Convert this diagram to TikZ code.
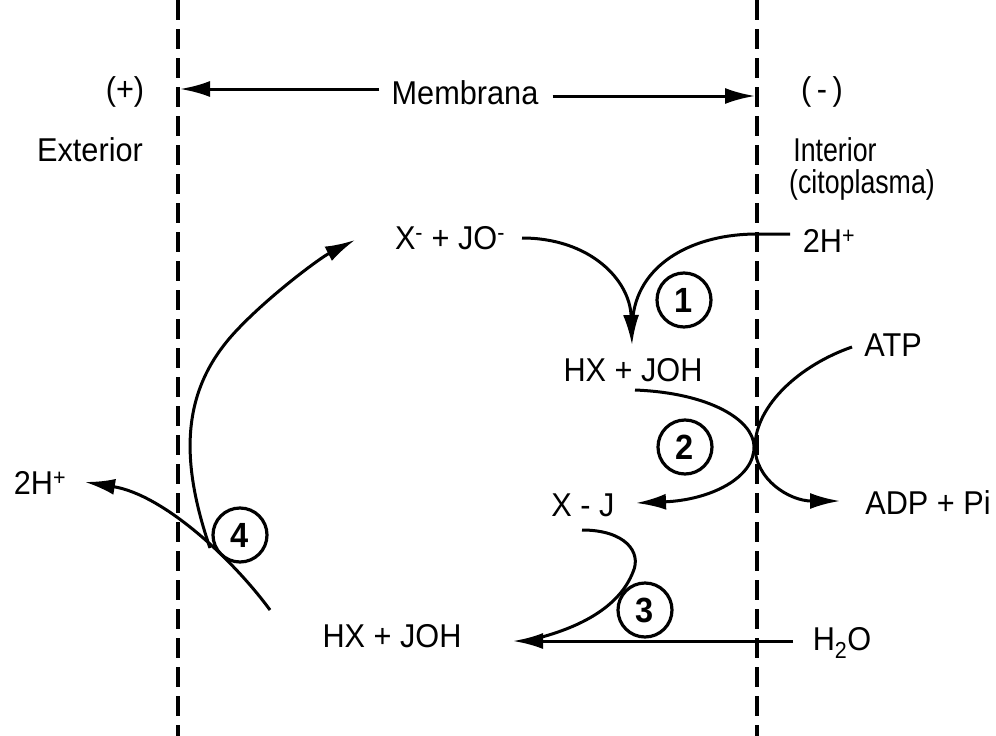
\documentclass[tikz,border=0pt]{standalone}
\usepackage{fontspec}
\setmainfont{Liberation Sans}[FakeStretch=0.93]
\usetikzlibrary{arrows.meta}
\begin{document}
\begin{tikzpicture}[x=1pt,y=-1pt,
  lbl/.style={inner sep=0pt,font=\fontsize{33}{38}\selectfont},
  nar/.style={inner sep=0pt,font=\fontsize{33}{38}\selectfont\addfontfeature{FakeStretch=0.81}},
  num/.style={draw,circle,line width=3.2pt,minimum size=54pt,inner sep=0pt,font=\fontsize{35}{38}\selectfont\bfseries},
  memline/.style={line width=4.5pt,dash pattern=on 20pt off 9pt},
  ln/.style={line width=3pt},
  arr/.style={line width=3pt,-{Latex[length=30pt,width=16pt]}}]
\useasboundingbox (0,0) rectangle (996,736);
% membranes
\coordinate (L1) at (178,0); \coordinate (L2) at (178,736);
\coordinate (R1) at (757,0); \coordinate (R2) at (757,736);
\draw[memline] (L1) -- (L2);
\draw[memline] (R1) -- (R2);
% labels
\node[lbl] (plus) at (125,92) {(+)};
\node[lbl] (minus) at (822,92) {(\,-\,)};
\node[lbl] (ext) at (90,150) {Exterior};
\node[nar] (int) at (835,150) {Interior};
\node[nar] (cito) at (862,185) {(citoplasma)};
\node[lbl] (memb) at (465,93) {Membrana};
\coordinate (ml) at (180,89);
\coordinate (mr) at (755,96);
\draw[arr] (memb.west |- ml) ++(-12,0) -- (ml);
\draw[arr] (memb.east |- mr) ++(14,0) -- (mr);
% species
\node[lbl] (xjo) at (450,238) {X\textsuperscript{-} + JO\textsuperscript{-}};
\node[lbl] (h2r) at (829,241) {2H\textsuperscript{+}};
\node[lbl] (hx1) at (633,370) {HX + JOH};
\node[lbl] (atp) at (893,345) {ATP};
\node[lbl] (xj) at (583,505) {X - J};
\node[lbl] (adp) at (928,503) {ADP + Pi};
\node[lbl] (hx2) at (392,636) {HX + JOH};
\node[lbl] (h2o) at (842,643) {H\textsubscript{2}O};
\node[lbl] (h2l) at (40,483) {2H\textsuperscript{+}};
% step circles
\node[num] (n1) at (684,300) {1};
\node[num] (n2) at (685,447) {2};
\node[num] (n3) at (645,610) {3};
\node[num] (n4) at (240,535) {4};
% step 1
\coordinate (t1) at (632,345);
\coordinate (s1) at (522,238);
\coordinate (s1b) at (790,234);
\draw[arr] (s1) .. controls (590,238) and (630,280) .. (t1);
\draw[ln] (s1b) -- (757,234) .. controls (695,234) and (640,262) .. (633,316);
% step 2
\coordinate (s2) at (635,390);
\coordinate (t2) at (636,503);
\coordinate (s2b) at (852,347);
\coordinate (t2b) at (840,501);
\draw[arr] (s2) .. controls (710,393) and (753,420) .. (754,446) .. controls (755,478) and (710,500) .. (t2);
\draw[arr] (s2b) .. controls (800,365) and (756,405) .. (755,446) .. controls (755,480) and (790,501) .. (t2b);
% step 3
\coordinate (s3) at (582,530);
\coordinate (s3b) at (793,641);
\coordinate (t3) at (513,641);
\draw[arr] (s3b) -- (t3);
\draw[ln] (s3) .. controls (625,530) and (642,552) .. (633,572) .. controls (620,605) and (585,625) .. (542,637);
% step 4
\coordinate (s4) at (270,610);
\coordinate (t4) at (85,482);
\coordinate (s4b) at (210,548);
\coordinate (t4b) at (355,240);
\draw[arr] (s4) .. controls (235,562) and (165,495) .. (t4);
\draw[arr] (s4b) .. controls (180,460) and (180,390) .. (237,330) .. controls (270,295) and (320,258) .. (t4b);
\end{tikzpicture}
\end{document}
